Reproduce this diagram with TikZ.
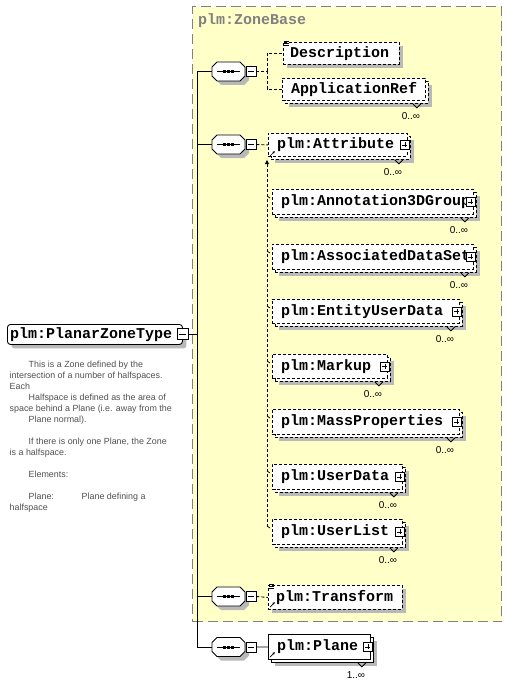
\documentclass[tikz,border=0pt]{standalone}
\usepackage{fontspec}
\setmainfont{Liberation Sans}
\newfontfamily\elemfont{Liberation Mono}
\usetikzlibrary{shadows,arrows.meta}
\definecolor{zonefill}{RGB}{255,255,200}
\definecolor{zoneborder}{RGB}{128,128,128}
\definecolor{shadowgray}{RGB}{185,185,185}
\definecolor{descgray}{RGB}{80,80,80}
\tikzset{
  elem/.style={draw=black, fill=white, line width=0.9pt, inner sep=0pt, anchor=north west},
  optdash/.style={dash pattern=on 3pt off 2pt},
  solidline/.style={solid},
  shad/.style={drop shadow={shadow xshift=4pt, shadow yshift=-4pt, fill=shadowgray, opacity=1}},
  etext/.style={font=\elemfont\bfseries\fontsize{15}{16}\selectfont, inner sep=0pt, anchor=west, text=black},
  occ/.style={font=\fontsize{10}{12}\selectfont, inner sep=0pt, text=black},
  pmbox/.style={draw=black, fill=white, line width=0.8pt, minimum size=9pt, inner sep=0pt, solid},
  minusbox/.style={pmbox, path picture={\draw[line width=0.8pt] ([xshift=2pt]path picture bounding box.west) -- ([xshift=-2pt]path picture bounding box.east);}},
  plusbox/.style={pmbox, path picture={\draw[line width=0.8pt] ([xshift=2pt]path picture bounding box.west) -- ([xshift=-2pt]path picture bounding box.east) ([yshift=-2pt]path picture bounding box.north) -- ([yshift=2pt]path picture bounding box.south);}},
  seqanchor/.style={inner sep=0pt, minimum width=33pt, minimum height=19pt},
  conn/.style={line width=0.9pt, draw=black},
  dconn/.style={conn, dash pattern=on 3pt off 2pt},
  icon/.style={line width=0.7pt, draw=black, solid},
}
\newcommand\OctPath{(-16.5,-4.5) -- (-11.5,-9.5) -- (11.5,-9.5) -- (16.5,-4.5) -- (16.5,4.5) -- (11.5,9.5) -- (-11.5,9.5) -- (-16.5,4.5) -- cycle}
\newcommand\SeqBox[3]{%
  \fill[shadowgray, shift={({#2+4},{#3+4})}] \OctPath;
  \filldraw[fill=white, draw=black, line width=0.9pt, shift={(#2,#3)}] \OctPath;
  \node[seqanchor] (#1) at (#2,#3) {};
  \draw[line width=0.9pt] ([xshift=5pt]#1.west) -- ([xshift=-5pt]#1.east);
  \fill ([xshift=-5.5pt,yshift=-1.5pt]#1.center) rectangle ([xshift=-2.5pt,yshift=1.5pt]#1.center);
  \fill ([xshift=-1.5pt,yshift=-1.5pt]#1.center) rectangle ([xshift=1.5pt,yshift=1.5pt]#1.center);
  \fill ([xshift=2.5pt,yshift=-1.5pt]#1.center) rectangle ([xshift=5.5pt,yshift=1.5pt]#1.center);
  \node[minusbox, minimum size=10pt] (#1m) at ({#2+22.5},#3) {};
}
\newcommand\MultiElem[9]{%
  \pgfmathsetmacro\mew{#4-#2-3}%
  \pgfmathsetmacro\meh{#5-#3-3}%
  \node[elem,#8,shad,minimum width=\mew pt,minimum height=\meh pt] (#1back) at ({#2+3},{#3+3}) {};
  \node[elem,#8,minimum width=\mew pt,minimum height=\meh pt] (#1) at (#2,#3) {};
  \node[etext] (#1text) at ([xshift=9pt]#1.west) {#6};
  \ifnum#9=1 \node[plusbox] (#1plus) at ([xshift=-3pt]#1.east) {};\fi
  \draw[line width=0.8pt, solid] ([xshift=-16pt]#1back.south east) -- ++(4,4) -- ++(4,-4);
  \node[occ] (#1occ) at ([xshift=-18pt,yshift=-12pt]#1back.south east) {#7};
}
\begin{document}
\begin{tikzpicture}[x=1pt,y=-1pt]
\useasboundingbox (0,0) rectangle (507,682);
% zone base
\node[draw=zoneborder, fill=zonefill, dash pattern=on 10pt off 5pt, line width=1.3pt, minimum width=309pt, minimum height=615pt, inner sep=0pt, anchor=north west] (zone) at (192,6) {};
\node[etext, text=zoneborder] (zonetitle) at (198,21) {plm:ZoneBase};

% root element
\node[elem, rounded corners=3pt, shad, minimum width=175pt, minimum height=20pt] (pzt) at (7,324) {};
\node[etext] (pzttext) at ([xshift=3pt]pzt.west) {plm:PlanarZoneType};
\node[minusbox, minimum size=11pt] (pztm) at (182.5,334) {};

% description text
\node[font=\fontsize{8.9}{11}\selectfont, text=descgray, align=left, anchor=north west, inner sep=0pt] (doc) at (9.5,361)
 {\hspace*{19pt}This is a Zone defined by the\\
  intersection of a number of halfspaces.\\
  Each\\
  \hspace*{19pt}Halfspace is defined as the area of\\
  space behind a Plane (i.e. away from the\\
  \hspace*{19pt}Plane normal).\\[11pt]
  \hspace*{19pt}If there is only one Plane, the Zone\\
  is a halfspace.\\[11pt]
  \hspace*{19pt}Elements:\\[11pt]
  \hspace*{19pt}\makebox[53pt][l]{Plane:}Plane defining a\\
  halfspace};

% sequences
\SeqBox{seq1}{228.5}{71.5}
\SeqBox{seq2}{228.5}{144.5}
\SeqBox{seq3}{228.5}{596.5}
\SeqBox{seq4}{228.5}{647}

% sequence 1 children
\node[elem, optdash, shad, minimum width=116pt, minimum height=22pt] (descbox) at (283,42) {};
\node[etext] (desctext) at ([xshift=7pt]descbox.west) {Description};
\draw[icon] (284,41) -- (289,41) (284,43) -- (289,43) (284,45) -- (289,45);
\MultiElem{appref}{282}{78}{428}{103}{ApplicationRef}{0..∞}{optdash}{0}

% sequence 2 children
\MultiElem{attr}{268}{133}{410}{159}{plm:Attribute}{0..∞}{optdash}{1}
\draw[icon, -{Latex[length=2.5pt,width=2.5pt]}] (270,156) -- (275,151);
\MultiElem{ann}{272}{189}{476}{217}{plm:Annotation3DGroup}{0..∞}{optdash}{1}
\MultiElem{ads}{272}{244}{476}{272}{plm:AssociatedDataSet}{0..∞}{optdash}{1}
\MultiElem{eud}{272}{299}{462}{326}{plm:EntityUserData}{0..∞}{optdash}{1}
\MultiElem{markup}{272}{354}{390}{381}{plm:Markup}{0..∞}{optdash}{1}
\MultiElem{mass}{272}{409}{462}{437}{plm:MassProperties}{0..∞}{optdash}{1}
\MultiElem{udata}{272}{464}{405}{492}{plm:UserData}{0..∞}{optdash}{1}
\MultiElem{ulist}{272}{519}{405}{547}{plm:UserList}{0..∞}{optdash}{1}

% sequence 3 child
\node[elem, optdash, shad, minimum width=134pt, minimum height=24pt] (transform) at (268,585) {};
\node[etext] (transformtext) at ([xshift=8pt]transform.west) {plm:Transform};
\draw[icon] (269,584) -- (274,584) (269,586) -- (274,586) (269,588) -- (274,588);
\draw[icon, -{Latex[length=2.5pt,width=2.5pt]}] (270,607) -- (275,602);

% sequence 4 child
\MultiElem{plane}{268}{634}{373}{662}{plm:Plane}{1..∞}{solidline}{1}
\draw[icon, -{Latex[length=2.5pt,width=2.5pt]}] (270,657) -- (275,652);

% trunk connectors
\coordinate (trunk) at (197,334);
\draw[conn] (pztm.east) -- (trunk);
\draw[conn] (trunk) |- (seq1.west);
\draw[conn] (trunk) |- (seq2.west);
\draw[conn] (trunk) |- (seq3.west);
\draw[conn] (trunk) |- (seq4.west);

% sequence connectors
\coordinate (br1) at (267,71.5);
\draw[dconn] (seq1m.east) -- (br1);
\draw[dconn] (br1) |- (descbox.west);
\draw[dconn] (br1) |- (appref.west);
\draw[dconn] (seq2m.east) -- (attr.west);
\draw[dconn] (seq3m.east) -- (transform.west);
\draw[conn] (seq4m.east) -- (plane.west);

% substitution group line
\coordinate (subtop) at (267,160);
\coordinate (subend) at (267,527);
\draw[dconn, -{Triangle[length=4pt,width=4pt]}] (subend) -- (subtop);
\foreach \m in {ann,ads,eud,markup,mass,udata,ulist}{
  \draw[line width=0.7pt] ([xshift=-5pt,yshift=-7pt]\m.north west) -- ([xshift=-2pt,yshift=-9pt]\m.north west);
}
\end{tikzpicture}
\end{document}
